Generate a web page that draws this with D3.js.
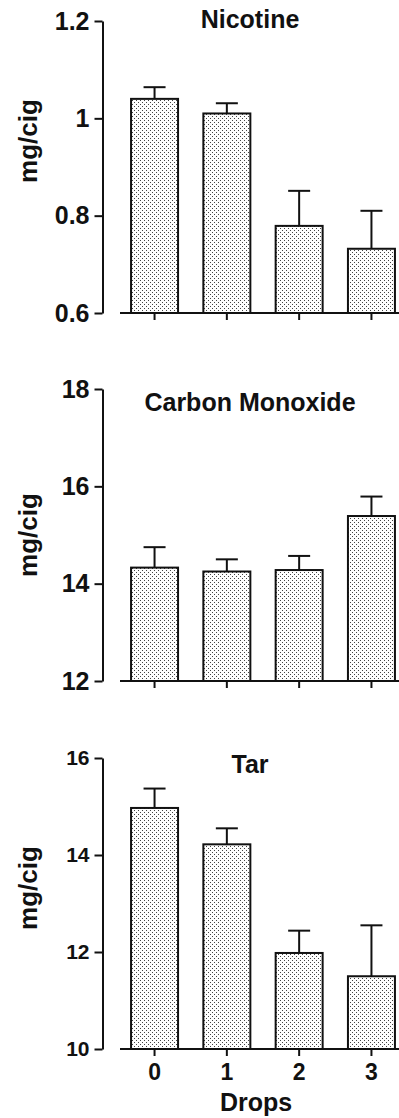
<!DOCTYPE html>
<html>
<head>
<meta charset="utf-8">
<script src="https://cdn.jsdelivr.net/npm/d3@7"></script>
<style>
  body { margin: 0; background: #fff; }
  svg { display: block; font-family: "Liberation Sans", Arial, Helvetica, sans-serif; font-weight: bold; }
</style>
</head>
<body>
<div id="chart"></div>
<script>
// values (mean, + SE bar)
const drops = ["0", "1", "2", "3"]

const nicotine = [1.04, 1.01, 0.779, 0.732]
const nicotineSE = [0.024, 0.021, 0.072, 0.078]
const nicotineTicks = [0.6, 0.8, 1, 1.2]

const carbonMonoxide = [14.33, 14.25, 14.28, 15.39]
const carbonMonoxideSE = [0.42, 0.25, 0.29, 0.40]
const carbonMonoxideTicks = [12, 14, 16, 18]

const tar = [14.97, 14.22, 11.98, 11.50]
const tarSE = [0.40, 0.33, 0.46, 1.05]
const tarTicks = [10, 12, 14, 16]

const width = 399
const height = 1118
const axisX = 102.5

const panels = [
  {title: "Nicotine", values: nicotine, se: nicotineSE, ticks: nicotineTicks,
   top: 21, bottom: 313, tickSize: 25, titleY: 28, labelY: 141},
  {title: "Carbon Monoxide", values: carbonMonoxide, se: carbonMonoxideSE, ticks: carbonMonoxideTicks,
   top: 389, bottom: 681, tickSize: 25, titleY: 411, labelY: 535},
  {title: "Tar", values: tar, se: tarSE, ticks: tarTicks,
   top: 758, bottom: 1049, tickSize: 21, titleY: 773, labelY: 888}
]

const svg = d3.select("#chart").append("svg")
    .attr("width", width)
    .attr("height", height)
    .attr("viewBox", `0 0 ${width} ${height}`)

svg.append("rect").attr("width", width).attr("height", height).attr("fill", "#fff")

// stippled fill of the bars
const pat = svg.append("defs").append("pattern")
    .attr("id", "dots")
    .attr("patternUnits", "userSpaceOnUse")
    .attr("width", 4)
    .attr("height", 4)
pat.append("rect").attr("width", 4).attr("height", 4).attr("fill", "#fff")
pat.append("rect").attr("x", 0).attr("y", 0).attr("width", 1).attr("height", 1).attr("fill", "#444")
pat.append("rect").attr("x", 2).attr("y", 2).attr("width", 1).attr("height", 1).attr("fill", "#444")

const x = d3.scaleBand()
    .domain(drops)
    .range([118.4, 407.6])
    .paddingInner(0.35)
    .paddingOuter(0.175)

panels.forEach((p, pi) => {
  const y = d3.scaleLinear()
      .domain(d3.extent(p.ticks))
      .range([p.bottom, p.top])

  const g = svg.append("g")

  // y axis
  g.append("g")
      .attr("transform", `translate(${axisX},0)`)
      .call(d3.axisLeft(y).tickValues(p.ticks).tickSize(8).tickPadding(5).tickSizeOuter(0).tickFormat(d3.format("")))
      .call(a => a.select(".domain").attr("stroke", "#111").attr("stroke-width", 2))
      .call(a => a.selectAll(".tick line").attr("stroke", "#111").attr("stroke-width", 2))
      .call(a => a.selectAll(".tick text")
          .attr("fill", "#111")
          .attr("font-size", p.tickSize)
          .attr("font-family", "'Liberation Sans', Arial, sans-serif")
          .attr("font-weight", "bold"))

  // bars
  g.selectAll("rect.bar")
    .data(p.values)
    .join("rect")
      .attr("class", "bar")
      .attr("x", (d, i) => x(drops[i]))
      .attr("y", d => y(d))
      .attr("width", x.bandwidth())
      .attr("height", d => y(p.ticks[0]) - y(d))
      .attr("fill", "url(#dots)")
      .attr("stroke", "#111")
      .attr("stroke-width", 2)

  // error bars (upper only)
  const eb = g.append("g").attr("stroke", "#111").attr("stroke-width", 2)
  eb.selectAll("line.v")
    .data(p.values)
    .join("line")
      .attr("class", "v")
      .attr("x1", (d, i) => x(drops[i]) + x.bandwidth() / 2)
      .attr("x2", (d, i) => x(drops[i]) + x.bandwidth() / 2)
      .attr("y1", d => y(d))
      .attr("y2", (d, i) => y(d + p.se[i]))
  eb.selectAll("line.cap")
    .data(p.values)
    .join("line")
      .attr("class", "cap")
      .attr("x1", (d, i) => x(drops[i]) + x.bandwidth() / 2 - 11)
      .attr("x2", (d, i) => x(drops[i]) + x.bandwidth() / 2 + 11)
      .attr("y1", (d, i) => y(d + p.se[i]))
      .attr("y2", (d, i) => y(d + p.se[i]))

  // x axis (separate from the y axis)
  g.append("g")
      .attr("transform", `translate(0,${p.bottom})`)
      .call(d3.axisBottom(x).tickSize(7).tickSizeOuter(0).tickPadding(8)
        .tickFormat(pi === panels.length - 1 ? d => d : () => ""))
      .call(a => a.select(".domain").attr("d", `M120,0H${width + 2}`).attr("stroke", "#111").attr("stroke-width", 2))
      .call(a => a.selectAll(".tick line").attr("stroke", "#111").attr("stroke-width", 2))
      .call(a => a.selectAll(".tick text")
          .attr("fill", "#111")
          .attr("font-size", 23)
          .attr("font-family", "'Liberation Sans', Arial, sans-serif")
          .attr("font-weight", "bold"))

  // title
  g.append("text")
      .attr("x", 250)
      .attr("y", p.titleY)
      .attr("text-anchor", "middle")
      .attr("font-size", 25)
      .attr("fill", "#111")
      .text(p.title)

  // y label
  g.append("text")
      .attr("transform", `translate(37,${p.labelY}) rotate(-90)`)
      .attr("text-anchor", "middle")
      .attr("font-size", 26)
      .attr("fill", "#111")
      .text("mg/cig")
})

svg.append("text")
    .attr("x", 256)
    .attr("y", 1111)
    .attr("text-anchor", "middle")
    .attr("font-size", 25)
    .attr("fill", "#111")
    .text("Drops")
</script>
</body>
</html>
